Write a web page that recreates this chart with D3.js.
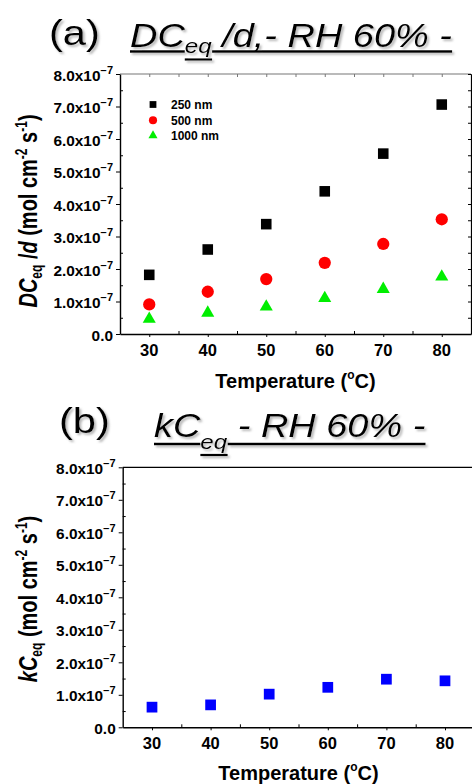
<!DOCTYPE html>
<html><head><meta charset="utf-8">
<script src="https://cdn.jsdelivr.net/npm/d3@7"></script>
<style>
body{margin:0;background:#fff}
svg{display:block}
text{font-family:"Liberation Sans",Arial,Helvetica,sans-serif}
</style>
</head><body>
<svg id="c" width="472" height="784"></svg>
<script>
// ---------------- data ----------------
const temperatures = [30, 40, 50, 60, 70, 80];
const dc250  = [1.82e-7, 2.60e-7, 3.38e-7, 4.39e-7, 5.55e-7, 7.06e-7];
const dc500  = [0.91e-7, 1.30e-7, 1.69e-7, 2.19e-7, 2.77e-7, 3.53e-7];
const dc1000 = [0.46e-7, 0.65e-7, 0.84e-7, 1.10e-7, 1.38e-7, 1.76e-7];
const kceq   = [0.62e-7, 0.69e-7, 1.02e-7, 1.23e-7, 1.48e-7, 1.43e-7];
const seriesNames = ["250 nm", "500 nm", "1000 nm"];
const xTickValues = [30, 40, 50, 60, 70, 80];
const xMinorValues = [35, 45, 55, 65, 75];
const yTickValues = [0, 1e-7, 2e-7, 3e-7, 4e-7, 5e-7, 6e-7, 7e-7, 8e-7];
const yMinorValues = [0.5e-7, 1.5e-7, 2.5e-7, 3.5e-7, 4.5e-7, 5.5e-7, 6.5e-7, 7.5e-7];
const yTickMantissas = ["0.0", "1.0", "2.0", "3.0", "4.0", "5.0", "6.0", "7.0", "8.0"];
const yTickExponent = "\u22127";

// ---------------- drawing ----------------
const svg = d3.select("#c");
const defs = svg.append("defs");
const flt = defs.append("filter").attr("id", "sh")
  .attr("x", "-10%").attr("y", "-40%").attr("width", "130%").attr("height", "200%");
flt.append("feDropShadow").attr("dx", 2).attr("dy", 2).attr("stdDeviation", 1)
  .attr("flood-color", "#888").attr("flood-opacity", 0.6);

function styleAxis(sel, w) {
  sel.selectAll("path.domain").attr("stroke", "#000").attr("stroke-width", w);
  sel.selectAll(".tick line").attr("stroke", "#000").attr("stroke-width", 1);
  sel.selectAll(".tick text").remove();
}

function panel(o) {
  const x = d3.scaleLinear().domain([25, 85]).range([o.left, o.right]);
  const y = d3.scaleLinear().domain([0, 8e-7]).range([o.bottom, o.top]);
  const g = svg.append("g");

  // top frame
  g.append("line").attr("x1", o.left).attr("x2", o.right).attr("y1", o.top).attr("y2", o.top)
    .attr("stroke", o.topColor).attr("stroke-width", 1.2);
  if (o.topTicks) {
    const ta = g.append("g").attr("transform", `translate(0,${o.top})`)
      .call(d3.axisBottom(x).tickValues(xTickValues.concat(xMinorValues).concat([85])).tickSize(3).tickSizeOuter(0).tickFormat(() => ""));
    ta.select("path.domain").remove();
    ta.selectAll(".tick line").attr("stroke", o.topColor);
  }
  if (o.rightAxis) {
    const ra = g.append("g").attr("transform", `translate(${o.right},0)`)
      .call(d3.axisLeft(y).tickValues(yTickValues.concat(yMinorValues)).tickSize(3).tickSizeOuter(0).tickFormat(() => ""));
    styleAxis(ra, 1.2);
  }

  // left axis: major outward, minor inward
  const la = g.append("g").attr("transform", `translate(${o.left},0)`)
    .call(d3.axisLeft(y).tickValues(yTickValues).tickSize(4).tickSizeOuter(0).tickFormat(() => ""));
  styleAxis(la, 1.4);
  const lm = g.append("g").attr("transform", `translate(${o.left},0)`)
    .call(d3.axisRight(y).tickValues(yMinorValues).tickSize(3).tickSizeOuter(0).tickFormat(() => ""));
  lm.select("path.domain").remove(); styleAxis(lm, 1);

  // bottom axis: major outward, minor inward
  const ba = g.append("g").attr("transform", `translate(0,${o.bottom})`)
    .call(d3.axisBottom(x).tickValues(xTickValues).tickSize(3).tickSizeOuter(0).tickFormat(() => ""));
  styleAxis(ba, 1.6);
  const bm = g.append("g").attr("transform", `translate(0,${o.bottom})`)
    .call(d3.axisTop(x).tickValues(xMinorValues).tickSize(3).tickSizeOuter(0).tickFormat(() => ""));
  bm.select("path.domain").remove(); styleAxis(bm, 1);

  // y tick labels
  yTickValues.forEach((v, i) => {
    const t = g.append("text")
      .attr("transform", `translate(${o.left - 7},${y(v) + 6.5}) scale(1.1,1)`)
      .attr("text-anchor", "end").attr("font-weight", "bold").attr("font-size", 14);
    if (v === 0) t.text(yTickMantissas[i]);
    else {
      t.append("tspan").text(yTickMantissas[i] + "x10");
      t.append("tspan").attr("dy", -7).attr("font-size", 10).text(yTickExponent);
    }
  });

  // x tick labels
  g.selectAll("text.xt").data(xTickValues).join("text").attr("class", "xt")
    .attr("x", d => x(d)).attr("y", o.bottom + 22)
    .attr("text-anchor", "middle").attr("font-weight", "bold").attr("font-size", 16.5)
    .text(d => d);

  // x title
  const xt = g.append("text").attr("x", (o.left + o.right) / 2).attr("y", o.xTitleY)
    .attr("text-anchor", "middle").attr("font-weight", "bold").attr("font-size", 20);
  xt.append("tspan").text("Temperature (");
  xt.append("tspan").attr("dy", -9).attr("font-size", 12).text("o");
  xt.append("tspan").attr("dy", 9).text("C)");

  // y title (rotated)
  const yt = g.append("text")
    .attr("transform", `translate(${o.yTitleX},${o.yTitleY}) rotate(-90) scale(1,1.3)`)
    .attr("text-anchor", "middle").attr("font-weight", "bold").attr("font-size", 20);
  yt.append("tspan").attr("font-style", "italic").text(o.yMain);
  yt.append("tspan").attr("dy", 4).attr("font-size", 12).text("eq");
  if (o.ySlash) {
    yt.append("tspan").attr("dy", -4).text(" /");
    yt.append("tspan").attr("font-style", "italic").text("d");
    yt.append("tspan").text(" (mol cm");
  } else {
    yt.append("tspan").attr("dy", -4).text(" (mol cm");
  }
  yt.append("tspan").attr("dy", -8).attr("font-size", 12).text("-2");
  yt.append("tspan").attr("dy", 8).text(" s");
  yt.append("tspan").attr("dy", -8).attr("font-size", 12).text("-1");
  yt.append("tspan").attr("dy", 8).text(")");

  return {x, y, g};
}

function title(o) {
  const g = svg.append("g").attr("filter", "url(#sh)");
  g.append("text").attr("transform", `translate(${o.labelX},${o.labelY}) scale(1.19,1)`)
    .attr("font-size", 35).text(o.label);
  const tg = g.append("g").attr("transform", `translate(${o.x},${o.y}) scale(1.15,1)`);
  const t = tg.append("text").attr("font-size", 33).attr("font-style", "italic");
  const a = t.append("tspan").text(o.main);
  const s = t.append("tspan").attr("dy", o.subDy).attr("font-size", 21).text("eq");
  const r = t.append("tspan").attr("dy", -o.subDy).text(o.rest);
  const ba = a.node().getBBox(), bs = s.node().getBBox(), br = r.node().getBBox();
  const line = (x1, x2, yy, w) => tg.append("line").attr("x1", x1).attr("x2", x2)
    .attr("y1", yy).attr("y2", yy).attr("stroke", "#000").attr("stroke-width", w);
  line(ba.x, bs.x, o.ul, 2.4);
  line(bs.x, bs.x + bs.width, o.ul + o.subUl, 2.2);
  line(bs.x + bs.width, br.x + br.width, o.ul, 2.4);
}

// ----- panel (a) -----
title({label: "(a)", labelX: 49, labelY: 45, x: 130, y: 47, main: "DC", rest: " /d,- RH 60% -",
       subDy: 6, ul: 4.5, subUl: 8});
const pa = panel({left: 120, right: 471, top: 74, bottom: 334, topColor: "#777", topTicks: true,
  rightAxis: true, xTitleY: 388, yTitleX: 37, yTitleY: 211, yMain: "DC", ySlash: true});

const series = [
  {name: seriesNames[0], vals: dc250, color: "#000", type: d3.symbolSquare, size: 112, lsize: 46},
  {name: seriesNames[1], vals: dc500, color: "#ff0000", type: d3.symbolCircle, size: 118, lsize: 52},
  {name: seriesNames[2], vals: dc1000, color: "#00ee00", type: d3.symbolTriangle, size: 74, lsize: 36}
];
series.forEach(s => {
  pa.g.selectAll(null).data(temperatures.map((t, i) => [t, s.vals[i]])).join("path")
    .attr("transform", d => `translate(${pa.x(d[0])},${pa.y(d[1])})`)
    .attr("d", d3.symbol().type(s.type).size(s.size)).attr("fill", s.color);
});
// legend
const legY = [104.5, 120.3, 135.5];
series.forEach((s, i) => {
  pa.g.append("path").attr("transform", `translate(153,${legY[i]})`)
    .attr("d", d3.symbol().type(s.type).size(s.lsize)).attr("fill", s.color);
  pa.g.append("text").attr("x", 171).attr("y", legY[i] + 4.5)
    .attr("font-weight", "bold").attr("font-size", 12).text(s.name);
});

// ----- panel (b) -----
title({label: "(b)", labelX: 59, labelY: 433, x: 154, y: 437, main: "kC", rest: " - RH 60% -",
       subDy: 12, ul: 7, subUl: 11});
const pb = panel({left: 122.7, right: 474.3, top: 467.3, bottom: 727.3, topColor: "#000", topTicks: false,
  rightAxis: false, xTitleY: 780, yTitleX: 37, yTitleY: 599, yMain: "kC", ySlash: false});
pb.g.selectAll(null).data(temperatures.map((t, i) => [t, kceq[i]])).join("path")
  .attr("transform", d => `translate(${pb.x(d[0])},${pb.y(d[1])})`)
  .attr("d", d3.symbol().type(d3.symbolSquare).size(115)).attr("fill", "#0000ff");
</script>
</body></html>
